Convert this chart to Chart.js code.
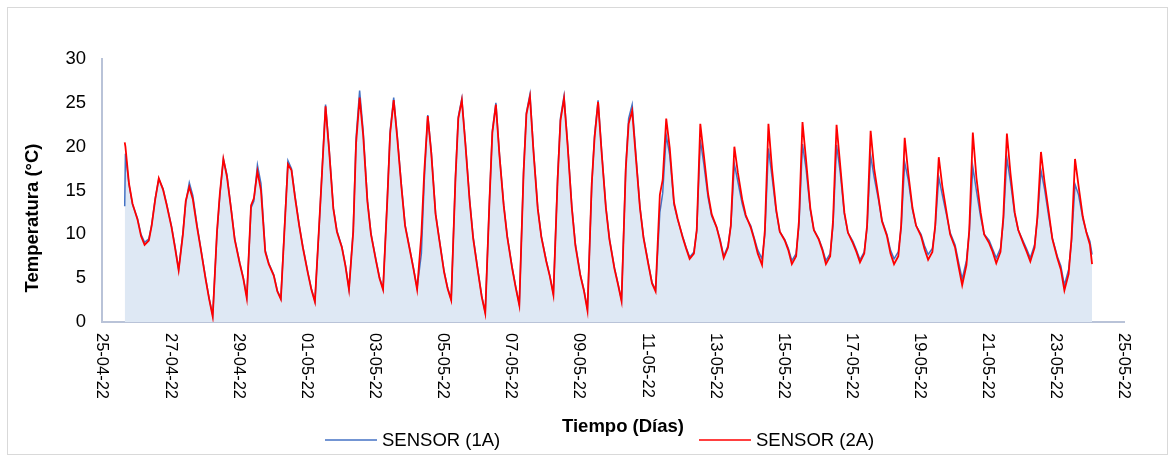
<!DOCTYPE html>
<html>
<head>
<meta charset="utf-8">
<script src="https://cdn.jsdelivr.net/npm/chart.js@4.4.1/dist/chart.umd.min.js"></script>
<style>
  html, body { margin: 0; padding: 0; background: #fff; }
  #wrap { width: 1176px; height: 458px; }
</style>
</head>
<body>
<div id="wrap"><canvas id="lineChart" width="1176" height="458"></canvas></div>
<script>
// x = days since 25-04-22 00:00, sampled at these hours of the day
var firstDayHours = [16, 16.5, 19, 21.5];            // 25-04-22
var dayHours = [1, 3.5, 6, 9, 11, 13.5, 16, 19, 21.5]; // 26-04-22 .. 23-05-22
var lastDayHours = [0, 1.5];                          // 24-05-22

var tickLabels = ['25-04-22', '27-04-22', '29-04-22', '01-05-22', '03-05-22', '05-05-22',
    '07-05-22', '09-05-22', '11-05-22', '13-05-22', '15-05-22', '17-05-22',
    '19-05-22', '21-05-22', '23-05-22', '25-05-22'];

// SENSOR (1A) temperatures (°C)
var sensor1A = [
    13.2, 19.2, 15.7, 13.4,                              // 25-04
    11.8, 10.0, 9.1, 9.5, 11.1, 14.1, 16.3, 15.2, 13.5,  // 26-04
    10.9, 8.6, 6.0, 10.2, 13.6, 15.9, 14.4, 11.0, 8.5,   // 27-04
    5.0, 2.7, 0.8, 10.1, 14.4, 18.6, 16.8, 12.9, 9.5,    // 28-04
    6.8, 5.1, 2.9, 13.0, 13.8, 17.9, 15.8, 8.2, 6.7,     // 29-04
    5.4, 3.6, 2.7, 12.1, 18.4, 17.5, 14.4, 11.0, 8.6,    // 30-04
    5.7, 3.8, 2.4, 11.0, 17.2, 24.8, 19.8, 13.0, 10.4,   // 01-05
    8.6, 6.5, 3.8, 10.6, 21.0, 26.4, 21.8, 13.9, 10.1,   // 02-05
    7.1, 5.1, 3.8, 14.1, 21.8, 25.6, 21.3, 15.5, 11.1,   // 03-05
    8.2, 6.1, 3.9, 7.8, 16.0, 23.6, 19.4, 12.4, 9.6,     // 04-05
    5.8, 3.9, 2.6, 16.5, 23.4, 25.5, 20.5, 14.0, 9.7,    // 05-05
    5.7, 3.0, 1.1, 14.0, 21.8, 25.0, 19.2, 13.4, 9.8,    // 06-05
    6.2, 4.0, 2.0, 17.3, 23.9, 26.0, 19.6, 13.0, 9.8,    // 07-05
    7.0, 5.3, 3.2, 16.6, 23.3, 25.8, 20.4, 13.2, 8.9,    // 08-05
    5.4, 3.7, 1.5, 15.5, 21.3, 25.3, 19.5, 13.1, 9.5,    // 09-05
    6.2, 4.4, 2.5, 17.7, 23.2, 24.8, 19.4, 13.1, 9.7,    // 10-05
    6.6, 4.5, 3.7, 12.5, 14.7, 21.3, 19.0, 13.4, 11.7,   // 11-05
    9.8, 8.5, 7.4, 8.0, 10.4, 20.8, 18.0, 14.2, 12.1,    // 12-05
    10.8, 9.4, 7.5, 8.7, 11.0, 18.0, 16.0, 13.5, 12.0,   // 13-05
    11.0, 9.6, 8.2, 7.2, 10.0, 19.8, 16.6, 12.6, 10.3,   // 14-05
    9.4, 8.4, 7.0, 7.8, 11.0, 20.3, 17.5, 12.8, 10.5,    // 15-05
    9.5, 8.4, 7.0, 7.8, 11.0, 20.2, 17.2, 12.3, 10.2,    // 16-05
    9.2, 8.2, 7.1, 8.0, 10.8, 19.0, 16.5, 14.0, 11.6,    // 17-05
    10.0, 8.2, 7.2, 8.0, 10.8, 18.2, 16.2, 12.8, 11.0,   // 18-05
    10.0, 8.7, 7.7, 8.4, 10.8, 16.5, 14.5, 12.2, 10.2,   // 19-05
    8.8, 6.8, 4.9, 7.0, 10.3, 17.7, 15.0, 12.0, 10.0,    // 20-05
    9.3, 8.3, 7.3, 8.4, 11.5, 18.7, 16.0, 12.3, 10.5,    // 21-05
    9.2, 8.3, 7.3, 8.8, 11.8, 17.3, 15.2, 12.0, 9.6,     // 22-05
    7.5, 6.4, 4.2, 6.0, 9.2, 15.7, 14.5, 11.8, 10.3,     // 23-05
    9.2, 7.7                                             // 24-05
];

// SENSOR (2A) temperatures (°C)
var sensor2A = [
    20.5, 20.0, 15.8, 13.5,                              // 25-04
    11.7, 9.8, 8.8, 9.3, 11.0, 14.0, 16.4, 15.1, 13.4,   // 26-04
    10.8, 8.4, 5.9, 10.0, 13.8, 15.4, 14.0, 10.8, 8.4,   // 27-04
    4.9, 2.6, 0.6, 10.3, 14.6, 18.6, 16.6, 12.8, 9.4,    // 28-04
    6.7, 5.0, 2.7, 13.3, 14.1, 17.2, 15.0, 8.0, 6.6,     // 29-04
    5.3, 3.5, 2.6, 11.9, 18.0, 17.3, 14.2, 10.9, 8.5,    // 30-04
    5.6, 3.7, 2.3, 11.1, 17.0, 24.6, 19.6, 12.9, 10.3,   // 01-05
    8.5, 6.4, 3.7, 10.3, 20.4, 25.6, 21.3, 13.7, 10.0,   // 02-05
    7.0, 5.0, 3.7, 13.9, 21.5, 25.3, 21.0, 15.3, 11.0,   // 03-05
    8.1, 6.0, 3.7, 10.0, 17.0, 23.5, 19.2, 12.3, 9.5,    // 04-05
    5.7, 3.8, 2.5, 16.3, 23.2, 25.3, 20.3, 13.8, 9.5,    // 05-05
    5.6, 2.9, 1.0, 13.9, 21.6, 24.8, 19.0, 13.3, 9.7,    // 06-05
    6.1, 3.9, 1.9, 17.0, 23.7, 25.7, 19.4, 12.9, 9.7,    // 07-05
    6.9, 5.2, 3.1, 16.3, 23.0, 25.5, 20.2, 13.0, 8.7,    // 08-05
    5.3, 3.6, 1.3, 15.7, 21.0, 25.1, 19.3, 13.0, 9.4,    // 09-05
    6.1, 4.3, 2.4, 17.5, 22.6, 24.1, 19.0, 13.0, 9.6,    // 10-05
    6.5, 4.4, 3.5, 14.5, 16.2, 23.2, 19.8, 13.6, 11.8,   // 11-05
    9.7, 8.4, 7.2, 7.8, 10.5, 22.6, 19.0, 14.6, 12.3,    // 12-05
    10.8, 9.2, 7.3, 8.5, 11.0, 20.0, 17.0, 14.0, 12.2,   // 13-05
    10.8, 9.4, 7.8, 6.5, 10.5, 22.6, 17.5, 12.8, 10.3,   // 14-05
    9.3, 8.2, 6.6, 7.5, 11.5, 22.8, 18.5, 13.0, 10.5,    // 15-05
    9.4, 8.2, 6.6, 7.5, 11.5, 22.5, 18.0, 12.5, 10.2,    // 16-05
    9.0, 8.0, 6.8, 7.8, 11.0, 21.8, 17.5, 14.3, 11.5,    // 17-05
    9.8, 7.8, 6.6, 7.5, 11.0, 21.0, 17.0, 13.0, 11.0,    // 18-05
    9.8, 8.3, 7.1, 8.0, 11.0, 18.8, 15.5, 12.5, 10.0,    // 19-05
    8.5, 6.3, 4.2, 6.5, 10.5, 21.6, 16.5, 12.5, 10.0,    // 20-05
    9.0, 8.0, 6.7, 8.0, 12.0, 21.5, 17.0, 12.5, 10.5,    // 21-05
    9.0, 8.0, 6.9, 8.5, 12.0, 19.4, 16.0, 12.5, 9.5,     // 22-05
    7.3, 6.0, 3.6, 5.5, 9.5, 18.6, 15.5, 12.0, 10.2,     // 23-05
    8.8, 6.6                                             // 24-05
];

var times = [];
firstDayHours.forEach(function (h) { times.push(h / 24); });
for (var d = 1; d <= 28; d++) {
    dayHours.forEach(function (h) { times.push(d + h / 24); });
}
lastDayHours.forEach(function (h) { times.push(29 + h / 24); });

function toPoints(values) {
    return values.map(function (v, i) { return { x: times[i], y: v }; });
}

var FONT = '"Liberation Sans", Arial, sans-serif';
var axisColor = '#b9c3d8';

var extrasPlugin = {
    id: 'extras',
    afterDraw: function (chart) {
        var ctx = chart.ctx;
        var xs = chart.scales.x;
        var area = chart.chartArea;
        ctx.save();
        // outer frame
        ctx.strokeStyle = '#d9d9d9';
        ctx.lineWidth = 1;
        ctx.strokeRect(7.5, 7.5, 1160, 447);

        // rotated date labels
        ctx.fillStyle = '#000';
        ctx.font = '16.5px ' + FONT;
        ctx.textAlign = 'left';
        ctx.textBaseline = 'middle';
        xs.ticks.forEach(function (t, i) {
            var px = xs.getPixelForValue(t.value);
            ctx.save();
            ctx.translate(px, area.bottom + 11);
            ctx.rotate(Math.PI / 2);
            ctx.fillText(tickLabels[i], 0, 0);
            ctx.restore();
        });

        // axis titles
        ctx.font = 'bold 18.5px ' + FONT;
        ctx.textAlign = 'center';
        ctx.fillText('Tiempo (Días)', (area.left + area.right) / 2 + 10, 427);
        ctx.save();
        ctx.translate(33, 218);
        ctx.rotate(-Math.PI / 2);
        ctx.fillText('Temperatura (°C)', 0, 0);
        ctx.restore();

        // legend
        ctx.font = '18.5px ' + FONT;
        ctx.textAlign = 'left';
        var items = [
            { x: 325, color: '#4472c4', text: 'SENSOR (1A)' },
            { x: 699, color: '#ff0000', text: 'SENSOR (2A)' }
        ];
        items.forEach(function (it) {
            ctx.strokeStyle = it.color;
            ctx.lineWidth = 1.5;
            ctx.beginPath();
            ctx.moveTo(it.x, 440);
            ctx.lineTo(it.x + 52, 440);
            ctx.stroke();
            ctx.fillText(it.text, it.x + 57, 441);
        });
        ctx.restore();
    }
};

var ctx = document.getElementById('lineChart').getContext('2d');
var myChart = new Chart(ctx, {
    type: 'line',
    data: {
        datasets: [{
            label: 'SENSOR (1A)',
            data: toPoints(sensor1A),
            borderColor: '#4472c4',
            backgroundColor: '#dee8f4',
            borderWidth: 1.5,
            fill: 'origin',
            pointRadius: 0,
            tension: 0,
            order: 1
        }, {
            label: 'SENSOR (2A)',
            data: toPoints(sensor2A),
            borderColor: '#ff0000',
            borderWidth: 1.8,
            fill: false,
            pointRadius: 0,
            tension: 0,
            order: 0
        }]
    },
    plugins: [extrasPlugin],
    options: {
        responsive: false,
        animation: false,
        layout: {
            padding: { top: 59, right: 52, bottom: 0, left: 0 }
        },
        plugins: {
            legend: { display: false },
            tooltip: { enabled: false }
        },
        scales: {
            x: {
                type: 'linear',
                min: 0,
                max: 30,
                ticks: {
                    display: false,
                    stepSize: 2,
                    callback: function (value, index) { return tickLabels[index]; }
                },
                grid: { display: false, drawTicks: false },
                border: { display: true, color: axisColor, width: 2 },
                afterFit: function (scale) { scale.height = 136; }
            },
            y: {
                min: 0,
                max: 30,
                ticks: {
                    stepSize: 5,
                    padding: 16,
                    color: '#000',
                    font: { family: FONT, size: 18.5 }
                },
                grid: { display: false, drawTicks: false },
                border: { display: true, color: axisColor, width: 2 },
                afterFit: function (scale) { scale.width = 102; }
            }
        }
    }
});
</script>
</body>
</html>
